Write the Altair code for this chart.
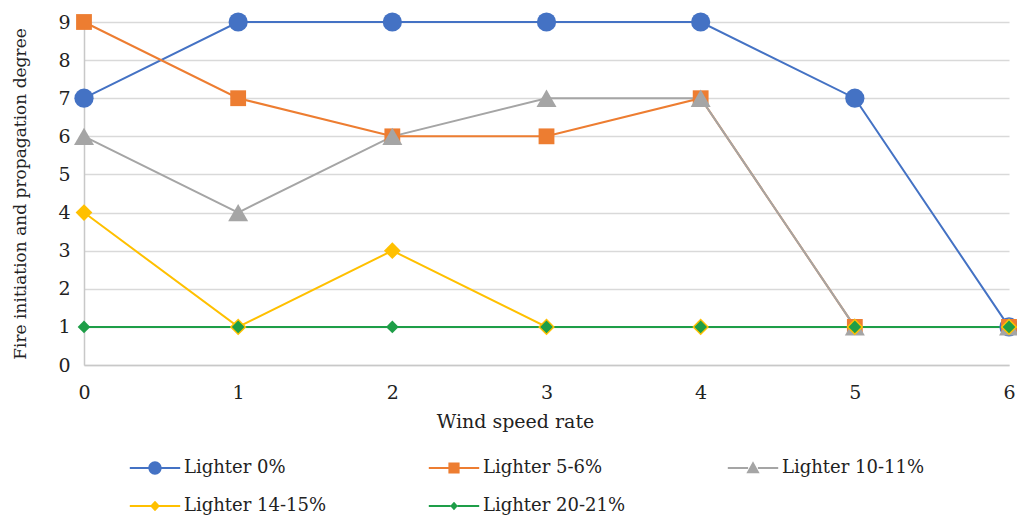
import altair as alt
import pandas as pd

wind = [0, 1, 2, 3, 4, 5, 6]
series_names = ["Lighter 0%", "Lighter 5-6%", "Lighter 10-11%", "Lighter 14-15%", "Lighter 20-21%"]
lighter_0 = [7, 9, 9, 9, 9, 7, 1]
lighter_5_6 = [9, 7, 6, 6, 7, 1, 1]
lighter_10_11 = [6, 4, 6, 7, 7, 1, 1]
lighter_14_15 = [4, 1, 3, 1, 1, 1, 1]
lighter_20_21 = [1, 1, 1, 1, 1, 1, 1]

colors = ["#4472C4", "#ED7D31", "#A5A5A5", "#FFC000", "#1E9E48"]
shapes = ["circle", "square", "triangle-up", "diamond", "diamond"]
sizes = [370, 250, 400, 280, 160]
# legend symbols: line segment (two thin bars) plus the marker, in units of sqrt(size)/2
legend_shapes = [
    "M-3.6,-0.14H-0.9V0.14H-3.6ZM0.9,-0.14H3.6V0.14H0.9ZM-0.95,0A0.95,0.95,0,1,1,0.95,0A0.95,0.95,0,1,1,-0.95,0Z",
    "M-3.6,-0.14H-0.8V0.14H-3.6ZM0.8,-0.14H3.6V0.14H0.8ZM-0.8,-0.8H0.8V0.8H-0.8Z",
    "M-3.6,-0.14H-0.7V0.14H-3.6ZM0.7,-0.14H3.6V0.14H0.7ZM0,-0.95L0.95,0.75L-0.95,0.75Z",
    "M-3.6,-0.14H-0.6V0.14H-3.6ZM0.6,-0.14H3.6V0.14H0.6ZM0,-0.75L0.7,0L0,0.75L-0.7,0Z",
    "M-3.6,-0.14H-0.5V0.14H-3.6ZM0.5,-0.14H3.6V0.14H0.5ZM0,-0.6L0.55,0L0,0.6L-0.55,0Z",
]

all_values = [lighter_0, lighter_5_6, lighter_10_11, lighter_14_15, lighter_20_21]
rows = []
for name, vals in zip(series_names, all_values):
    for x, v in zip(wind, vals):
        rows.append({"wind": x, "degree": v, "series": name})
df = pd.DataFrame(rows)

FONT = "DejaVu Serif"

x_enc = alt.X("wind:Q", scale=alt.Scale(domain=[0, 6], nice=False),
              axis=alt.Axis(values=wind, title="Wind speed rate", format="d"))
y_enc = alt.Y("degree:Q", scale=alt.Scale(domain=[0, 9], nice=False),
              axis=alt.Axis(values=list(range(10)), title="Fire initiation and propagation degree", format="d"))

base = alt.Chart(df)

line_layers = []
point_layers = []
for name, col, shp, sz in zip(series_names, colors, shapes, sizes):
    sub = base.transform_filter(alt.datum.series == name)
    line_layers.append(sub.mark_line(strokeWidth=2, color=col).encode(x=x_enc, y=y_enc))
    point_layers.append(
        sub.mark_point(filled=True, opacity=1, shape=shp, size=sz, color=col).encode(x=x_enc, y=y_enc)
    )

# layer whose marks fall outside the plot (clipped away); it only produces the legend
legend_layer = base.transform_calculate(degree="datum.degree + 100").mark_point(
    filled=True, size=196, clip=True, opacity=1
).encode(
    x=x_enc,
    y=y_enc,
    color=alt.Color("series:N", scale=alt.Scale(domain=series_names, range=colors),
                    legend=alt.Legend(title=None)),
    shape=alt.Shape("series:N", scale=alt.Scale(domain=series_names, range=legend_shapes),
                    legend=alt.Legend(title=None)),
)

chart = alt.layer(*line_layers, *point_layers, legend_layer).properties(
    width=925, height=343,
    autosize=alt.AutoSizeParams(type="none"),
    padding={"left": 84, "top": 22, "right": 8, "bottom": 153},
).configure_view(stroke=None).configure_axis(
    labelFont=FONT, titleFont=FONT, labelFontSize=19, titleFontSize=17,
    labelColor="#222222", titleColor="#222222", titleFontWeight="normal",
    ticks=False, domainColor="#c8c8c8", domainWidth=1.5,
    gridColor="#d9d9d9", gridWidth=1.5, labelFlush=False,
).configure_axisX(
    grid=False, labelPadding=18, titlePadding=10, titleX=431, titleAlign="center",
    titleFontSize=19,
).configure_axisY(
    grid=True, labelPadding=14, titlePadding=28,
).configure_legend(
    orient="none", legendX=62, legendY=437, columns=3, direction="horizontal",
    columnPadding=101, rowPadding=20, labelOffset=20, symbolSize=196,
    symbolStrokeWidth=0, padding=0,
    labelFont=FONT, labelFontSize=18, labelColor="#222222",
)

chart.save("out.html", embed_options={"renderer": "svg", "actions": False})
